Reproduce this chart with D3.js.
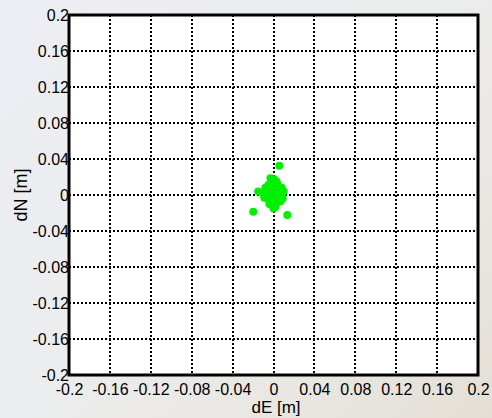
<!DOCTYPE html>
<html>
<head>
<meta charset="utf-8">
<script src="https://cdn.jsdelivr.net/npm/d3@7"></script>
<style>
  html, body { margin: 0; padding: 0; }
  body { width: 492px; height: 418px; overflow: hidden;
         background: linear-gradient(135deg, #eceef3 0%, #ecedef 45%, #e9e7e2 75%, #e3dfd6 100%); }
  text { font-family: "Liberation Sans", Arial, sans-serif; fill: #000; }
</style>
</head>
<body>
<svg width="492" height="418"></svg>
<script>
const ticks = [-0.2, -0.16, -0.12, -0.08, -0.04, 0, 0.04, 0.08, 0.12, 0.16, 0.2];
const tickLabels = ["-0.2", "-0.16", "-0.12", "-0.08", "-0.04", "0", "0.04", "0.08", "0.12", "0.16", "0.2"];

// position errors, east / north [m]
const dE = [0.0057, -0.0198, 0.0135, -0.0150, -0.0030, 0.0005, -0.0020, 0.0000, -0.0080, -0.0100,
            0.0080, 0.0100, 0.0060, -0.0060, 0.0030, -0.0040, 0.0000, 0.0020, -0.0010, 0.0050,
            -0.0070, 0.0090, -0.0050, 0.0040, 0.0010, -0.0030, 0.0070, -0.0090, 0.0030, -0.0020,
            0.0000, 0.0060, -0.0060, 0.0020, 0.0080, -0.0040];
const dN = [0.0326, -0.0185, -0.0222, 0.0040, 0.0185, 0.0175, 0.0120, 0.0090, 0.0080, 0.0020,
            0.0080, 0.0040, 0.0000, -0.0040, -0.0080, -0.0100, -0.0150, -0.0120, 0.0040, 0.0050,
            -0.0020, -0.0040, 0.0110, 0.0120, 0.0010, -0.0060, -0.0070, -0.0030, 0.0150, 0.0150,
            -0.0050, 0.0020, 0.0050, -0.0130, 0.0020, 0.0000];

const svg = d3.select("svg");
const margin = { left: 69, right: 14, top: 15, bottom: 43 };
const width = 492, height = 418;

const x = d3.scaleLinear().domain([-0.2, 0.2]).range([margin.left, width - margin.right]);
const y = d3.scaleLinear().domain([-0.2, 0.2]).range([height - margin.bottom, margin.top]);

// plot area
svg.append("rect")
    .attr("x", x(-0.2)).attr("y", y(0.2))
    .attr("width", x(0.2) - x(-0.2)).attr("height", y(-0.2) - y(0.2))
    .attr("fill", "#fff");

// grid
const grid = svg.append("g")
    .attr("stroke", "#000").attr("stroke-width", 2).attr("stroke-dasharray", "2,2");
grid.selectAll("line.v").data(ticks.slice(1, -1)).enter().append("line")
    .attr("x1", d => Math.round(x(d))).attr("x2", d => Math.round(x(d)))
    .attr("y1", y(0.2)).attr("y2", y(-0.2));
grid.selectAll("line.h").data(ticks.slice(1, -1)).enter().append("line")
    .attr("y1", d => Math.round(y(d))).attr("y2", d => Math.round(y(d)))
    .attr("x1", x(-0.2)).attr("x2", x(0.2));

// points
svg.append("g").selectAll("circle")
    .data(dE.map((e, i) => [e, dN[i]]))
    .enter().append("circle")
    .attr("cx", d => x(d[0]))
    .attr("cy", d => y(d[1]))
    .attr("r", 4)
    .attr("fill", "#00f000");

// frame
svg.append("rect")
    .attr("x", x(-0.2)).attr("y", y(0.2))
    .attr("width", x(0.2) - x(-0.2)).attr("height", y(-0.2) - y(0.2))
    .attr("fill", "none").attr("stroke", "#000").attr("stroke-width", 3);

// tick labels
const xAxis = d3.axisBottom(x).tickValues(ticks).tickFormat((d, i) => tickLabels[i]).tickSize(0).tickPadding(0);
svg.append("g")
    .attr("transform", `translate(0,${y(-0.2)})`)
    .call(xAxis)
    .call(g => g.select(".domain").remove())
    .selectAll("text")
    .attr("y", 20).attr("dy", null)
    .style("font-size", "16px")
    .style("font-family", "Liberation Sans, Arial, sans-serif");

const yAxis = d3.axisLeft(y).tickValues(ticks).tickFormat((d, i) => tickLabels[i]).tickSize(0).tickPadding(0);
svg.append("g")
    .attr("transform", `translate(${x(-0.2)},0)`)
    .call(yAxis)
    .call(g => g.select(".domain").remove())
    .selectAll("text")
    .attr("x", 0)
    .style("font-size", "16px")
    .style("font-family", "Liberation Sans, Arial, sans-serif");

// axis titles
svg.append("text")
    .attr("x", 276).attr("y", 413)
    .attr("text-anchor", "middle")
    .style("font-size", "17px")
    .text("dE [m]");
svg.append("text")
    .attr("transform", `translate(27,${y(0)}) rotate(-90)`)
    .attr("text-anchor", "middle")
    .style("font-size", "18px")
    .text("dN [m]");
</script>
</body>
</html>
